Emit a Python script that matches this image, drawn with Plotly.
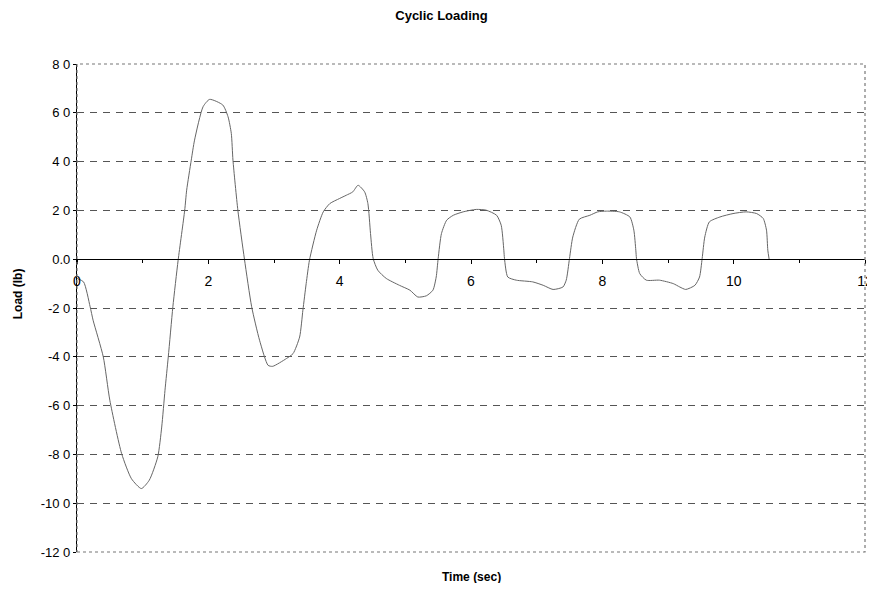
import plotly.graph_objects as go

# Time (sec)
time_s = [0.0, 0.1, 0.2, 0.245, 0.4, 0.5, 0.68, 0.83, 0.98, 1.1, 1.23, 1.29, 1.34, 1.39, 1.46, 1.54,
          1.64, 1.67, 1.74, 1.79, 1.92, 2.02, 2.22, 2.3, 2.35, 2.375, 2.45, 2.55,
          2.66, 2.78, 2.91, 2.98, 3.19, 3.29, 3.39, 3.44, 3.49, 3.54,
          3.65, 3.75, 3.85, 4.0, 4.1, 4.2, 4.28, 4.38, 4.43, 4.47, 4.51,
          4.58, 4.71, 4.91, 5.07, 5.19, 5.32, 5.42, 5.47, 5.5,
          5.55, 5.63, 5.73, 5.88, 6.08, 6.23, 6.39, 6.46, 6.5, 6.51,
          6.56, 6.69, 6.94, 7.1, 7.25, 7.4, 7.45, 7.5,
          7.55, 7.65, 7.81, 7.93, 8.06, 8.26, 8.42, 8.48, 8.51, 8.52,
          8.57, 8.67, 8.87, 9.08, 9.18, 9.27, 9.41, 9.48, 9.52,
          9.56, 9.63, 9.79, 9.99, 10.19, 10.35, 10.45, 10.5, 10.52, 10.54]
# Load (lb)
load_lb = [-7.9, -9.3, -19.5, -25.0, -40.0, -57.8, -79.7, -90.0, -94.0, -90.6, -81.0, -68.8, -53.7, -40.0, -19.5, -0.4,
           20.0, 28.3, 40.6, 48.8, 62.5, 65.5, 63.2, 58.4, 51.5, 40.6, 20.0, 0.0,
           -19.5, -33.2, -43.5, -43.9, -40.7, -38.7, -31.9, -20.9, -10.0, -0.4,
           11.9, 19.4, 22.8, 24.9, 26.2, 27.6, 30.3, 27.6, 22.8, 10.5, 0.3,
           -4.5, -7.9, -10.7, -12.7, -15.5, -15.0, -12.7, -7.3, 0.3,
           10.5, 16.0, 18.0, 19.4, 20.4, 20.1, 18.0, 13.9, 3.7, 0.3,
           -7.3, -8.6, -9.3, -10.7, -12.4, -11.4, -8.6, 0.3,
           9.1, 16.4, 18.0, 19.4, 19.7, 19.4, 17.3, 11.9, 3.7, 0.3,
           -5.9, -8.6, -8.6, -10.0, -11.4, -12.4, -10.7, -7.3, 0.3,
           9.1, 15.3, 17.3, 18.7, 19.4, 18.7, 16.7, 11.9, 3.7, 0.0]

x_tickvals = [0, 2, 4, 6, 8, 10, 12]
x_ticktext = ["0", "2", "4", "6", "8", "10", "12"]
y_tickvals = [80, 60, 40, 20, 0, -20, -40, -60, -80, -100, -120]
y_ticktext = ["8 0", "6 0", "4 0", "2 0", "0.0", "-2 0", "-4 0", "-6 0", "-8 0", "-10 0", "-12 0"]

FONT = "Liberation Sans, Arial, sans-serif"
W, H = 867, 575

fig = go.Figure()
fig.add_trace(go.Scatter(x=time_s, y=load_lb, mode="lines",
                         line=dict(color="#666666", width=1, shape="spline", smoothing=0.6),
                         showlegend=False, hoverinfo="skip"))
# x tick labels sitting under the zero line (Excel style), not clipped at the plot edge
fig.add_trace(go.Scatter(x=x_tickvals, y=[0] * len(x_tickvals), mode="markers+text",
                         text=x_ticktext, textposition="bottom center", cliponaxis=False,
                         marker=dict(size=24, color="rgba(0,0,0,0)"),
                         textfont=dict(family=FONT, size=14, color="black"),
                         showlegend=False, hoverinfo="skip"))

fig.update_layout(
    width=W, height=H,
    margin=dict(l=69, r=10, t=56, b=31, autoexpand=False),
    paper_bgcolor="white", plot_bgcolor="white",
    font=dict(family=FONT, size=13, color="black"),
    title=dict(text="<b>Cyclic Loading</b>", x=0.5, xref="container", xanchor="center",
               y=1 - 7 / H, yref="container", yanchor="middle",
               font=dict(family=FONT, size=13, color="black")),
    xaxis=dict(range=[0, 12], anchor="free", position=0.6, automargin=False,
               tickvals=x_tickvals, showticklabels=False,
               ticks="outside", ticklen=4, tickcolor="black",
               minor=dict(dtick=1, ticks="outside", ticklen=3, tickcolor="black"),
               showline=True, linecolor="black", linewidth=1.2,
               showgrid=False, zeroline=False),
    yaxis=dict(range=[-120, 80], tickvals=y_tickvals, ticktext=y_ticktext, automargin=False,
               ticks="outside", ticklen=3, tickcolor="black",
               showline=True, linecolor="black", linewidth=1.2,
               showgrid=True, gridcolor="#555555", griddash="7px,6px", gridwidth=1,
               zeroline=False,
               tickfont=dict(family=FONT, size=13, color="black")),
    shapes=[dict(type="rect", xref="paper", yref="paper", x0=0, x1=1, y0=0, y1=1,
                 line=dict(color="#777777", width=1.2, dash="dot"), layer="above")],
    annotations=[
        dict(text="<b>Time (sec)</b>", xref="paper", yref="paper", x=0.5, y=-0.052,
             xanchor="center", yanchor="middle", showarrow=False,
             font=dict(family=FONT, size=12, color="black")),
        dict(text="<b>Load (lb)</b>", xref="paper", yref="paper", x=-0.075, y=0.53,
             xanchor="center", yanchor="middle", showarrow=False, textangle=-90,
             font=dict(family=FONT, size=12, color="black")),
    ],
)

fig.write_html("out.html")
